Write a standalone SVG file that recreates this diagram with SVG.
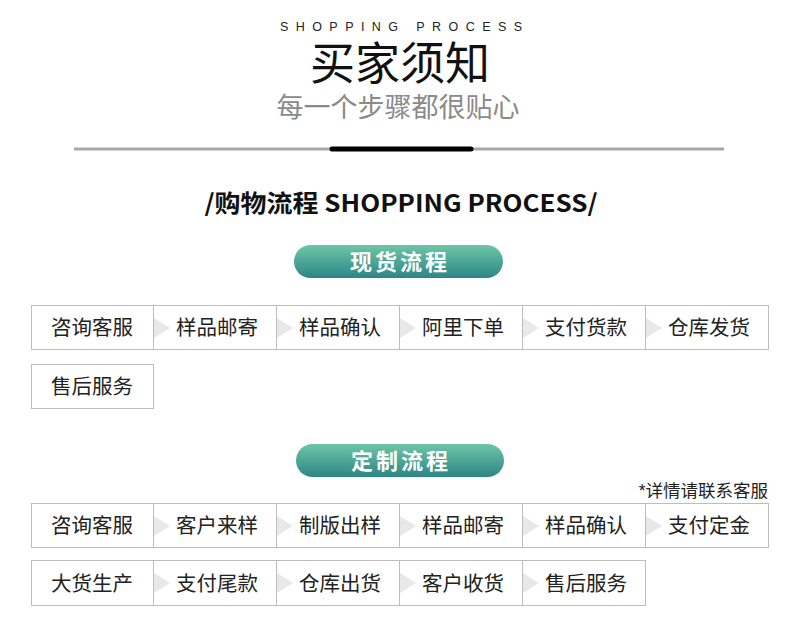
<svg xmlns="http://www.w3.org/2000/svg" width="800" height="621" viewBox="0 0 800 621">
<defs>
<linearGradient id="pill" x1="0" y1="0" x2="0" y2="1">
<stop offset="0" stop-color="#6ec6a6"/>
<stop offset="1" stop-color="#2c8686"/>
</linearGradient>
<style>
.cjk{font-family:"Liberation Sans","Noto Sans CJK SC",sans-serif}
.box{fill:none;stroke:#bdbdbd;stroke-width:1}
.arr{fill:#e8e8e8}
.lbl{font-family:"Liberation Sans","Noto Sans CJK SC",sans-serif;font-size:20.5px;fill:#222;text-anchor:middle}
.pilltxt{font-family:"Noto Sans CJK SC",sans-serif;font-size:22px;font-weight:bold;fill:#fff;text-anchor:middle;letter-spacing:3px}
</style>
</defs>
<rect width="800" height="621" fill="#fff"/>
<g id="header">
<text x="401" y="31" font-family="Liberation Sans, sans-serif" font-size="12.5" fill="#222" textLength="242" lengthAdjust="spacing" text-anchor="middle">SHOPPING PROCESS</text>
<text x="400" y="80" class="cjk" font-size="45" fill="#111" text-anchor="middle">买家须知</text>
<text x="398" y="117" class="cjk" font-size="27" fill="#8a8a8a" text-anchor="middle">每一个步骤都很贴心</text>
<line x1="74" y1="149" x2="724" y2="149" stroke="#a8a8a8" stroke-width="3"/>
<line x1="332" y1="149" x2="471" y2="149" stroke="#000" stroke-width="5" stroke-linecap="round"/>
<text x="401" y="212" font-family="Noto Sans CJK SC, sans-serif" font-size="24" font-weight="bold" fill="#111" text-anchor="middle" textLength="393" lengthAdjust="spacingAndGlyphs">/购物流程 SHOPPING PROCESS/</text>
</g>
<g id="pill-stock">
<rect x="294" y="245" width="209" height="33" rx="16.5" fill="url(#pill)"/>
<text x="400" y="270" class="pilltxt">现货流程</text>
</g>
<g id="pill-custom">
<rect x="296" y="444" width="208" height="33" rx="16.5" fill="url(#pill)"/>
<text x="401" y="469" class="pilltxt">定制流程</text>
</g>
<text id="note" x="768" y="497" class="cjk" font-size="17.5" fill="#222" text-anchor="end">*详情请联系客服</text>
<g id="connectors">
<polygon class="arr" points="154,318 170,328 154,338"/>
<polygon class="arr" points="277,318 293,328 277,338"/>
<polygon class="arr" points="400,318 416,328 400,338"/>
<polygon class="arr" points="523,318 539,328 523,338"/>
<polygon class="arr" points="646,318 662,328 646,338"/>
<polygon class="arr" points="154,516 170,526 154,536"/>
<polygon class="arr" points="277,516 293,526 277,536"/>
<polygon class="arr" points="400,516 416,526 400,536"/>
<polygon class="arr" points="523,516 539,526 523,536"/>
<polygon class="arr" points="646,516 662,526 646,536"/>
<polygon class="arr" points="154,573 170,583 154,593"/>
<polygon class="arr" points="277,573 293,583 277,593"/>
<polygon class="arr" points="400,573 416,583 400,593"/>
<polygon class="arr" points="523,573 539,583 523,593"/>
</g>
<g id="s1"><rect class="box" x="31.5" y="305.5" width="122" height="44"/><text class="lbl" x="92" y="335">咨询客服</text></g>
<g id="s2"><rect class="box" x="153.5" y="305.5" width="123" height="44"/><text class="lbl" x="217" y="335">样品邮寄</text></g>
<g id="s3"><rect class="box" x="276.5" y="305.5" width="123" height="44"/><text class="lbl" x="340" y="335">样品确认</text></g>
<g id="s4"><rect class="box" x="399.5" y="305.5" width="123" height="44"/><text class="lbl" x="463" y="335">阿里下单</text></g>
<g id="s5"><rect class="box" x="522.5" y="305.5" width="123" height="44"/><text class="lbl" x="586" y="335">支付货款</text></g>
<g id="s6"><rect class="box" x="645.5" y="305.5" width="123" height="44"/><text class="lbl" x="709" y="335">仓库发货</text></g>
<g id="s7"><rect class="box" x="31.5" y="364.5" width="122" height="44"/><text class="lbl" x="92" y="394">售后服务</text></g>
<g id="c1"><rect class="box" x="31.5" y="503.5" width="122" height="44"/><text class="lbl" x="92" y="533">咨询客服</text></g>
<g id="c2"><rect class="box" x="153.5" y="503.5" width="123" height="44"/><text class="lbl" x="217" y="533">客户来样</text></g>
<g id="c3"><rect class="box" x="276.5" y="503.5" width="123" height="44"/><text class="lbl" x="340" y="533">制版出样</text></g>
<g id="c4"><rect class="box" x="399.5" y="503.5" width="123" height="44"/><text class="lbl" x="463" y="533">样品邮寄</text></g>
<g id="c5"><rect class="box" x="522.5" y="503.5" width="123" height="44"/><text class="lbl" x="586" y="533">样品确认</text></g>
<g id="c6"><rect class="box" x="645.5" y="503.5" width="123" height="44"/><text class="lbl" x="709" y="533">支付定金</text></g>
<g id="c7"><rect class="box" x="31.5" y="560.5" width="122" height="45"/><text class="lbl" x="92" y="591">大货生产</text></g>
<g id="c8"><rect class="box" x="153.5" y="560.5" width="123" height="45"/><text class="lbl" x="217" y="591">支付尾款</text></g>
<g id="c9"><rect class="box" x="276.5" y="560.5" width="123" height="45"/><text class="lbl" x="340" y="591">仓库出货</text></g>
<g id="c10"><rect class="box" x="399.5" y="560.5" width="123" height="45"/><text class="lbl" x="463" y="591">客户收货</text></g>
<g id="c11"><rect class="box" x="522.5" y="560.5" width="123" height="45"/><text class="lbl" x="586" y="591">售后服务</text></g>
</svg>
